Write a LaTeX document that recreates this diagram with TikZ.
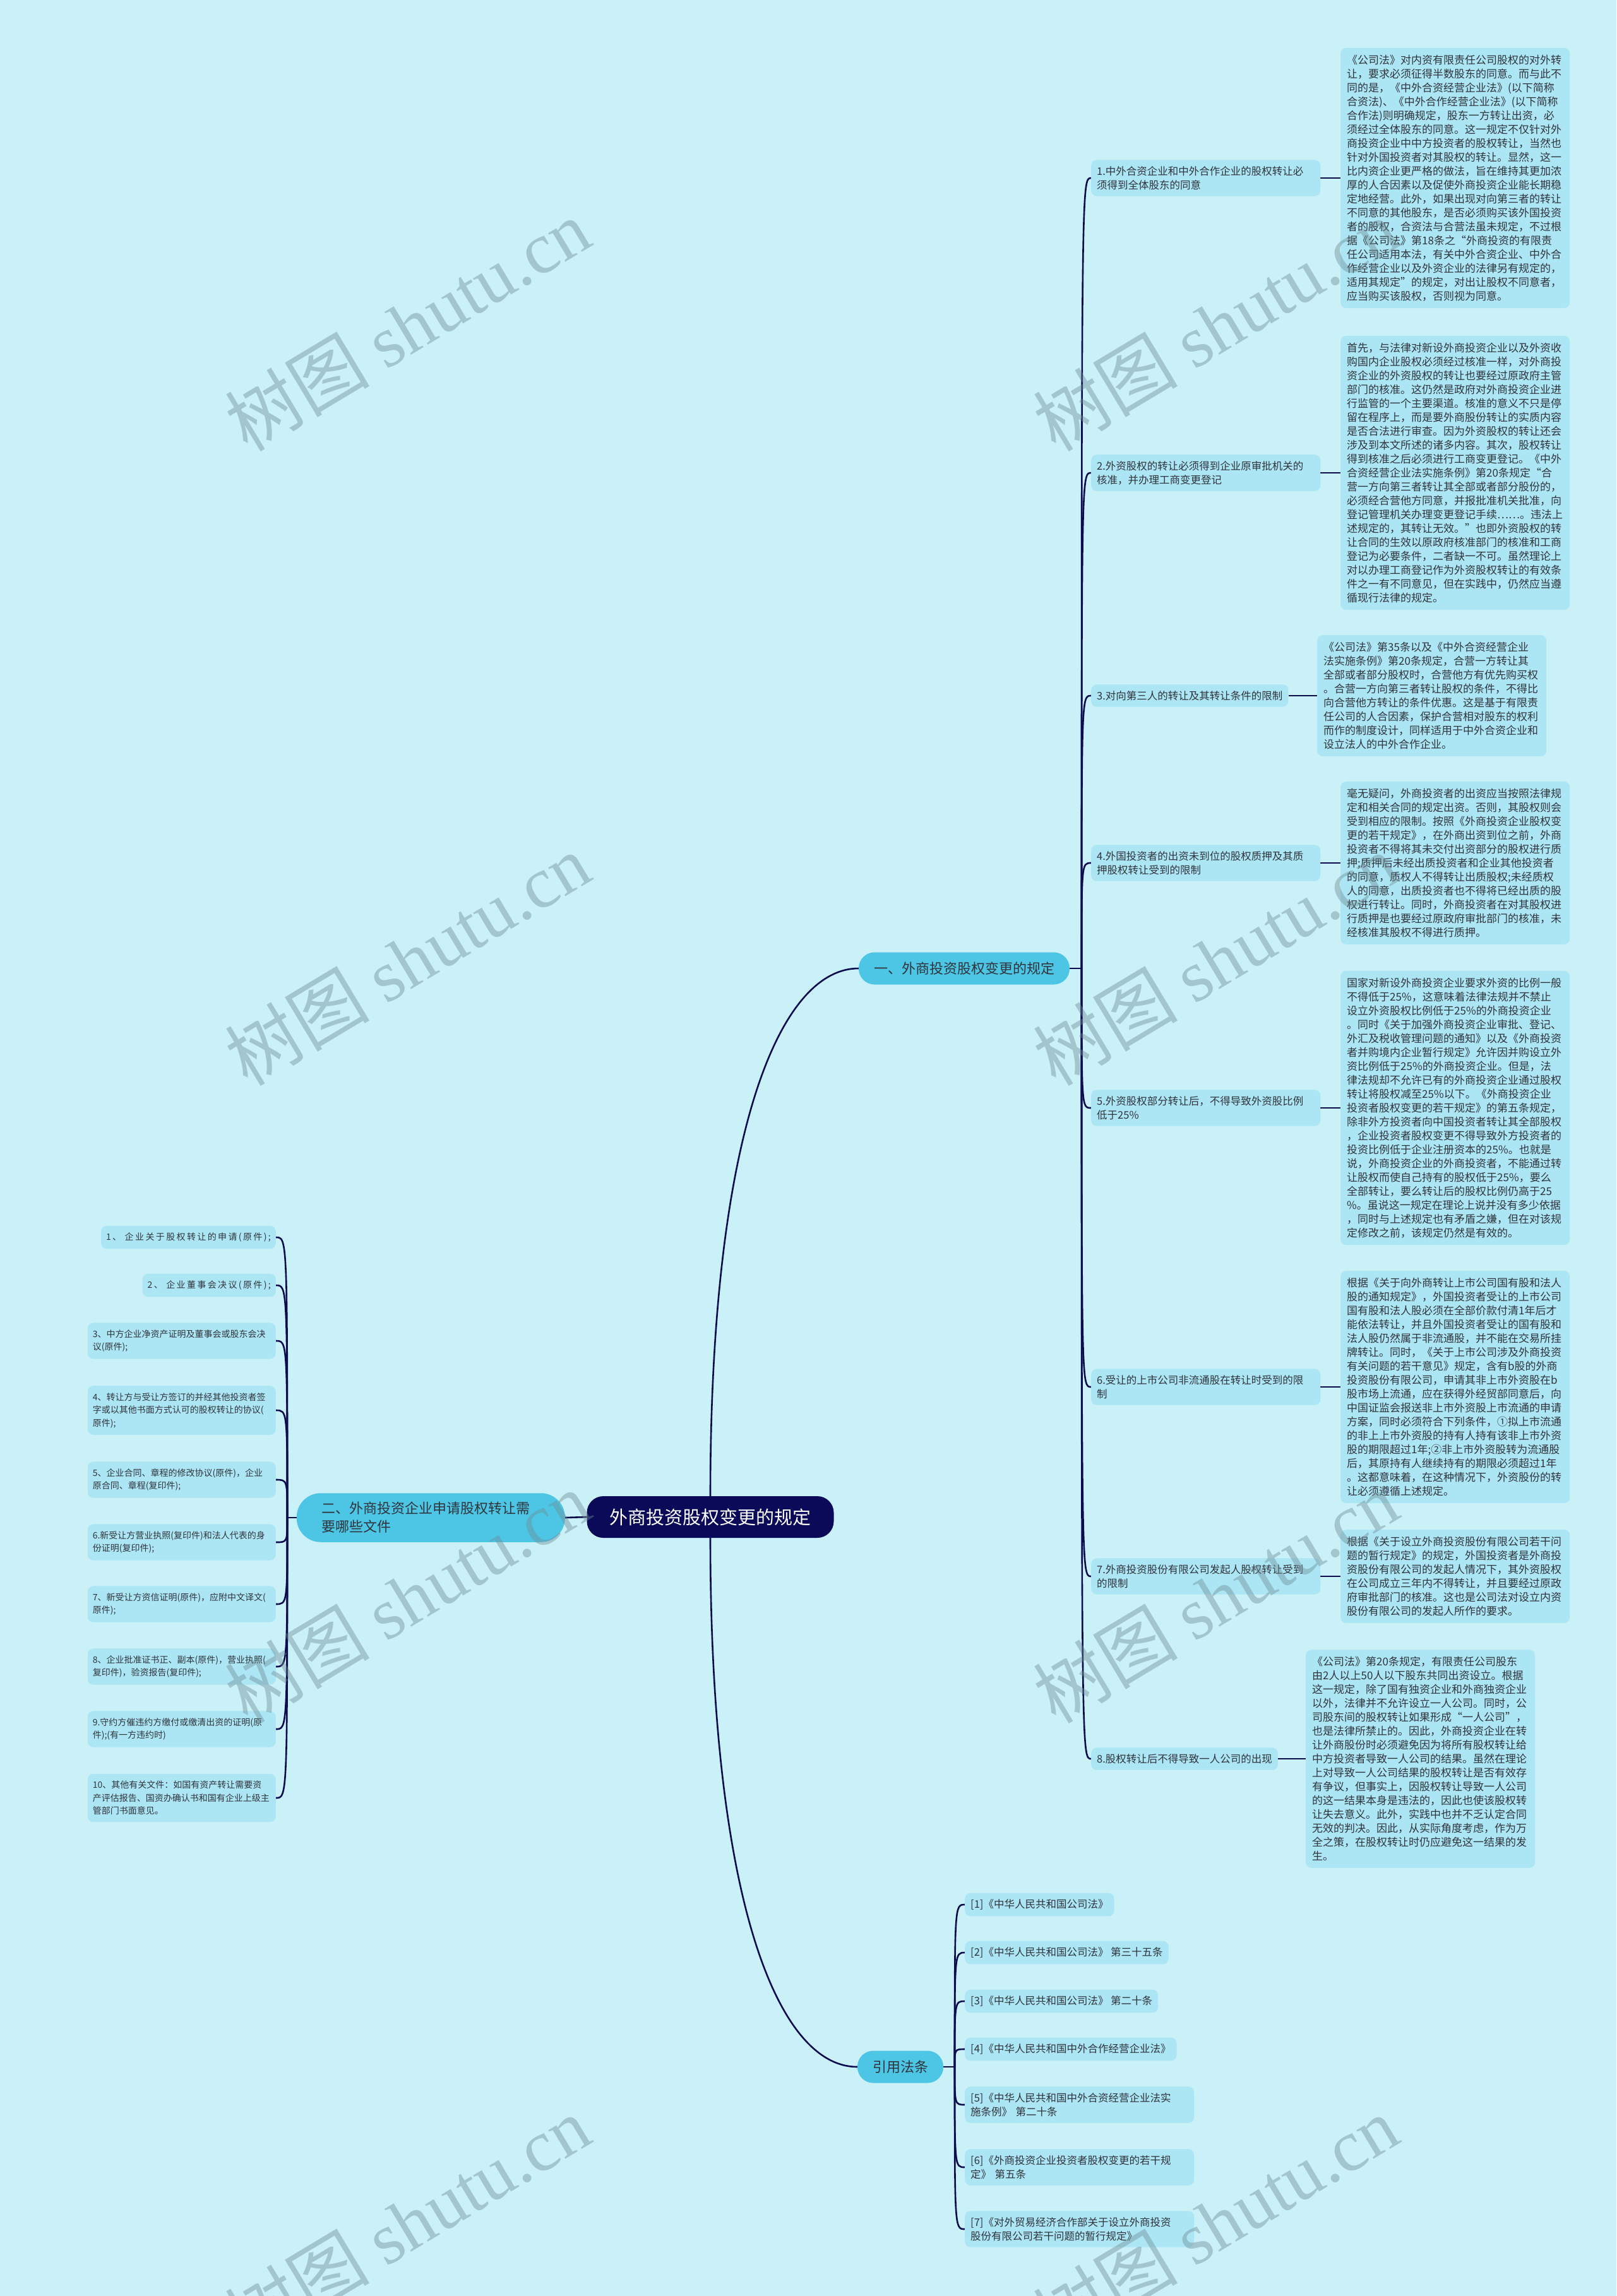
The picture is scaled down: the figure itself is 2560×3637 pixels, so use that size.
\documentclass[tikz,border=0pt]{standalone}
\usepackage{fontspec}
\setmainfont{Noto Sans CJK SC}
\newfontfamily\wmfont{Liberation Serif}
\newfontfamily\spacedfont[LetterSpace=17]{Noto Sans CJK SC}
\definecolor{bg}{RGB}{202,240,248}
\definecolor{boxfill}{RGB}{172,229,243}
\definecolor{lvlone}{RGB}{76,198,228}
\definecolor{rootfill}{RGB}{10,10,88}
\definecolor{linecol}{RGB}{12,12,78}
\definecolor{txt}{RGB}{48,52,60}
\definecolor{wm}{RGB}{110,140,148}
\pgfdeclarelayer{back}
\pgfdeclarelayer{edges}
\pgfdeclarelayer{front}
\pgfsetlayers{back,edges,main,front}
\tikzset{
  conn/.style={draw=linecol, line width=2.6pt},
  rootnode/.style={fill=rootfill, text=white, rounded corners=26pt, minimum height=66pt, inner xsep=36pt, font=\fontsize{29}{34}\selectfont},
  lvl/.style={fill=lvlone, text=txt, rounded corners=25pt, minimum height=51pt, inner xsep=24pt, font=\fontsize{22}{29}\selectfont},
  lvltwo/.style={fill=lvlone, text=txt, rounded corners=38pt, inner xsep=40pt, inner ysep=14pt, text width=345pt, align=left, font=\fontsize{22}{29}\selectfont},
  leaf/.style={fill=boxfill, text=txt, rounded corners=9pt, inner xsep=9pt, inner ysep=10pt, align=left, font=\fontsize{16.5}{22}\selectfont},
  detail/.style={fill=boxfill, text=txt, rounded corners=9pt, inner xsep=10pt, inner ysep=11pt, text width=343pt, align=left, font=\fontsize{17}{22}\selectfont},
  item/.style={fill=boxfill, text=txt, rounded corners=9pt, inner xsep=8pt, inner ysep=11pt, align=left, font=\fontsize{14}{20.5}\selectfont},
  spaceditem/.style={item, font=\spacedfont\fontsize{14}{20.5}\selectfont},
  refbox/.style={fill=boxfill, text=txt, rounded corners=9pt, inner xsep=9pt, inner ysep=10pt, align=left, font=\fontsize{16.5}{22}\selectfont},
  wmark/.style={text=wm, opacity=0.42, rotate=31, font=\fontsize{115}{115}\selectfont}
}
\begin{document}
\begin{tikzpicture}[x=1pt,y=-1pt]
\begin{pgfonlayer}{back}
\fill[bg] (0,0) rectangle (2560,3637);
\end{pgfonlayer}
\useasboundingbox (0,0) rectangle (2560,3637);

% root and level one
\node[rootnode] (root) at (1125,2403) {外商投资股权变更的规定};
\node[lvl] (l1) at (1527,1534) {一、外商投资股权变更的规定};
\node[lvltwo, anchor=east] (l2) at (895,2404) {二、外商投资企业申请股权转让需\\要哪些文件};
\node[lvl] (l3) at (1426,3274) {引用法条};

% right leaves
\node[leaf, anchor=west, text width=345pt] (a1) at (1728,282) {1.中外合资企业和中外合作企业的股权转让必\\须得到全体股东的同意};
\node[leaf, anchor=west, text width=345pt] (a2) at (1728,749) {2.外资股权的转让必须得到企业原审批机关的\\核准，并办理工商变更登记};
\node[leaf, anchor=west] (a3) at (1728,1102) {3.对向第三人的转让及其转让条件的限制};
\node[leaf, anchor=west, text width=345pt] (a4) at (1728,1367) {4.外国投资者的出资未到位的股权质押及其质\\押股权转让受到的限制};
\node[leaf, anchor=west, text width=345pt] (a5) at (1728,1755) {5.外资股权部分转让后，不得导致外资股比例\\低于25\%};
\node[leaf, anchor=west, text width=345pt] (a6) at (1728,2197) {6.受让的上市公司非流通股在转让时受到的限\\制};
\node[leaf, anchor=west, text width=345pt] (a7) at (1728,2497) {7.外商投资股份有限公司发起人股权转让受到\\的限制};
\node[leaf, anchor=west] (a8) at (1728,2786) {8.股权转让后不得导致一人公司的出现};

% detail boxes
\node[detail, anchor=west] (d1) at (2123,282) {《公司法》对内资有限责任公司股权的对外转\\让，要求必须征得半数股东的同意。而与此不\\同的是，《中外合资经营企业法》(以下简称\\合资法)、《中外合作经营企业法》(以下简称\\合作法)则明确规定，股东一方转让出资，必\\须经过全体股东的同意。这一规定不仅针对外\\商投资企业中中方投资者的股权转让，当然也\\针对外国投资者对其股权的转让。显然，这一\\比内资企业更严格的做法，旨在维持其更加浓\\厚的人合因素以及促使外商投资企业能长期稳\\定地经营。此外，如果出现对向第三者的转让\\不同意的其他股东，是否必须购买该外国投资\\者的股权，合资法与合营法虽未规定，不过根\\据《公司法》第18条之“外商投资的有限责\\任公司适用本法，有关中外合资企业、中外合\\作经营企业以及外资企业的法律另有规定的，\\适用其规定”的规定，对出让股权不同意者，\\应当购买该股权，否则视为同意。};
\node[detail, anchor=west] (d2) at (2123,749) {首先，与法律对新设外商投资企业以及外资收\\购国内企业股权必须经过核准一样，对外商投\\资企业的外资股权的转让也要经过原政府主管\\部门的核准。这仍然是政府对外商投资企业进\\行监管的一个主要渠道。核准的意义不只是停\\留在程序上，而是要外商股份转让的实质内容\\是否合法进行审查。因为外资股权的转让还会\\涉及到本文所述的诸多内容。其次，股权转让\\得到核准之后必须进行工商变更登记。《中外\\合资经营企业法实施条例》第20条规定“合\\营一方向第三者转让其全部或者部分股份的，\\必须经合营他方同意，并报批准机关批准，向\\登记管理机关办理变更登记手续……。违法上\\述规定的，其转让无效。”也即外资股权的转\\让合同的生效以原政府核准部门的核准和工商\\登记为必要条件，二者缺一不可。虽然理论上\\对以办理工商登记作为外资股权转让的有效条\\件之一有不同意见，但在实践中，仍然应当遵\\循现行法律的规定。};
\node[detail, anchor=west] (d3) at (2086,1102) {《公司法》第35条以及《中外合资经营企业\\法实施条例》第20条规定，合营一方转让其\\全部或者部分股权时，合营他方有优先购买权\\。合营一方向第三者转让股权的条件，不得比\\向合营他方转让的条件优惠。这是基于有限责\\任公司的人合因素，保护合营相对股东的权利\\而作的制度设计，同样适用于中外合资企业和\\设立法人的中外合作企业。};
\node[detail, anchor=west] (d4) at (2123,1367) {毫无疑问，外商投资者的出资应当按照法律规\\定和相关合同的规定出资。否则，其股权则会\\受到相应的限制。按照《外商投资企业股权变\\更的若干规定》，在外商出资到位之前，外商\\投资者不得将其未交付出资部分的股权进行质\\押;质押后未经出质投资者和企业其他投资者\\的同意，质权人不得转让出质股权;未经质权\\人的同意，出质投资者也不得将已经出质的股\\权进行转让。同时，外商投资者在对其股权进\\行质押是也要经过原政府审批部门的核准，未\\经核准其股权不得进行质押。};
\node[detail, anchor=west] (d5) at (2123,1755) {国家对新设外商投资企业要求外资的比例一般\\不得低于25\%，这意味着法律法规并不禁止\\设立外资股权比例低于25\%的外商投资企业\\。同时《关于加强外商投资企业审批、登记、\\外汇及税收管理问题的通知》以及《外商投资\\者并购境内企业暂行规定》允许因并购设立外\\资比例低于25\%的外商投资企业。但是，法\\律法规却不允许已有的外商投资企业通过股权\\转让将股权减至25\%以下。《外商投资企业\\投资者股权变更的若干规定》的第五条规定，\\除非外方投资者向中国投资者转让其全部股权\\，企业投资者股权变更不得导致外方投资者的\\投资比例低于企业注册资本的25\%。也就是\\说，外商投资企业的外商投资者，不能通过转\\让股权而使自己持有的股权低于25\%，要么\\全部转让，要么转让后的股权比例仍高于25\\\%。虽说这一规定在理论上说并没有多少依据\\，同时与上述规定也有矛盾之嫌，但在对该规\\定修改之前，该规定仍然是有效的。};
\node[detail, anchor=west] (d6) at (2123,2197) {根据《关于向外商转让上市公司国有股和法人\\股的通知规定》，外国投资者受让的上市公司\\国有股和法人股必须在全部价款付清1年后才\\能依法转让，并且外国投资者受让的国有股和\\法人股仍然属于非流通股，并不能在交易所挂\\牌转让。同时，《关于上市公司涉及外商投资\\有关问题的若干意见》规定，含有b股的外商\\投资股份有限公司，申请其非上市外资股在b\\股市场上流通，应在获得外经贸部同意后，向\\中国证监会报送非上市外资股上市流通的申请\\方案，同时必须符合下列条件，①拟上市流通\\的非上上市外资股的持有人持有该非上市外资\\股的期限超过1年;②非上市外资股转为流通股\\后，其原持有人继续持有的期限必须超过1年\\。这都意味着，在这种情况下，外资股份的转\\让必须遵循上述规定。};
\node[detail, anchor=west] (d7) at (2123,2497) {根据《关于设立外商投资股份有限公司若干问\\题的暂行规定》的规定，外国投资者是外商投\\资股份有限公司的发起人情况下，其外资股权\\在公司成立三年内不得转让，并且要经过原政\\府审批部门的核准。这也是公司法对设立内资\\股份有限公司的发起人所作的要求。};
\node[detail, anchor=west] (d8) at (2068,2786) {《公司法》第20条规定，有限责任公司股东\\由2人以上50人以下股东共同出资设立。根据\\这一规定，除了国有独资企业和外商独资企业\\以外，法律并不允许设立一人公司。同时，公\\司股东间的股权转让如果形成“一人公司”，\\也是法律所禁止的。因此，外商投资企业在转\\让外商股份时必须避免因为将所有股权转让给\\中方投资者导致一人公司的结果。虽然在理论\\上对导致一人公司结果的股权转让是否有效存\\有争议，但事实上，因股权转让导致一人公司\\的这一结果本身是违法的，因此也使该股权转\\让失去意义。此外，实践中也并不乏认定合同\\无效的判决。因此，从实际角度考虑，作为万\\全之策，在股权转让时仍应避免这一结果的发\\生。};

% left items
\node[spaceditem, anchor=east] (i1) at (437,1960) {1、 企业关于股权转让的申请(原件);};
\node[spaceditem, anchor=east] (i2) at (437,2036) {2、 企业董事会决议(原件);};
\node[item, anchor=east, text width=282pt] (i3) at (437,2124) {3、中方企业净资产证明及董事会或股东会决\\议(原件);};
\node[item, anchor=east, text width=282pt] (i4) at (437,2234) {4、转让方与受让方签订的并经其他投资者签\\字或以其他书面方式认可的股权转让的协议(\\原件);};
\node[item, anchor=east, text width=282pt] (i5) at (437,2344) {5、企业合同、章程的修改协议(原件)，企业\\原合同、章程(复印件);};
\node[item, anchor=east, text width=282pt] (i6) at (437,2443) {6.新受让方营业执照(复印件)和法人代表的身\\份证明(复印件);};
\node[item, anchor=east, text width=282pt] (i7) at (437,2541) {7、新受让方资信证明(原件)，应附中文译文(\\原件);};
\node[item, anchor=east, text width=282pt] (i8) at (437,2640) {8、企业批准证书正、副本(原件)，营业执照(\\复印件)，验资报告(复印件);};
\node[item, anchor=east, text width=282pt] (i9) at (437,2739) {9.守约方催违约方缴付或缴清出资的证明(原\\件);(有一方违约时)};
\node[item, anchor=east, text width=282pt] (i10) at (437,2848) {10、其他有关文件：如国有资产转让需要资\\产评估报告、国资办确认书和国有企业上级主\\管部门书面意见。};

% references
\node[refbox, anchor=west] (r1) at (1528,3017) {[1]《中华人民共和国公司法》};
\node[refbox, anchor=west] (r2) at (1528,3093) {[2]《中华人民共和国公司法》 第三十五条};
\node[refbox, anchor=west] (r3) at (1528,3170) {[3]《中华人民共和国公司法》 第二十条};
\node[refbox, anchor=west] (r4) at (1528,3246) {[4]《中华人民共和国中外合作经营企业法》};
\node[refbox, anchor=west, text width=345pt] (r5) at (1528,3334) {[5]《中华人民共和国中外合资经营企业法实\\施条例》 第二十条};
\node[refbox, anchor=west, text width=345pt] (r6) at (1528,3433) {[6]《外商投资企业投资者股权变更的若干规\\定》 第五条};
\node[refbox, anchor=west, text width=345pt] (r7) at (1528,3531) {[7]《对外贸易经济合作部关于设立外商投资\\股份有限公司若干问题的暂行规定》};

\coordinate (h1) at (1713,1534);
\coordinate (h2) at (455,2404);
\coordinate (h3) at (1512,3274);

\begin{pgfonlayer}{edges}
\draw[conn] (root.north) .. controls +(0,-570) and +(-127,0) .. (l1.west);
\draw[conn] (root.south) .. controls +(0,570) and +(-127,0) .. (l3.west);
\draw[conn] (root.west) -- (l2.east);
\draw[conn] (l1.east) -- (h1);
\draw[conn] (l2.west) -- (h2);
\draw[conn] (l3.east) -- (h3);
\foreach \n in {a1,a2,a3,a4,a5,a6,a7,a8}
  \draw[conn] (h1) .. controls (h1 |- \n.west) .. (\n.west);
\foreach \n in {i1,i2,i3,i4,i5,i6,i7,i8,i9,i10}
  \draw[conn] (h2) .. controls (h2 |- \n.east) .. (\n.east);
\foreach \n in {r1,r2,r3,r4,r5,r6,r7}
  \draw[conn] (h3) .. controls (h3 |- \n.west) .. (\n.west);
\draw[conn] (a1.east) -- (a1.east -| d1.west);
\draw[conn] (a2.east) -- (a2.east -| d2.west);
\draw[conn] (a3.east) -- (a3.east -| d3.west);
\draw[conn] (a4.east) -- (a4.east -| d4.west);
\draw[conn] (a5.east) -- (a5.east -| d5.west);
\draw[conn] (a6.east) -- (a6.east -| d6.west);
\draw[conn] (a7.east) -- (a7.east -| d7.west);
\draw[conn] (a8.east) -- (a8.east -| d8.west);
\end{pgfonlayer}

\begin{pgfonlayer}{front}
\node[wmark] (w1) at (645,515) {树图 {\wmfont shutu.cn}};
\node[wmark] (w2) at (1925,515) {树图 {\wmfont shutu.cn}};
\node[wmark] (w3) at (645,1520) {树图 {\wmfont shutu.cn}};
\node[wmark] (w4) at (1925,1520) {树图 {\wmfont shutu.cn}};
\node[wmark] (w5) at (645,2530) {树图 {\wmfont shutu.cn}};
\node[wmark] (w6) at (1925,2530) {树图 {\wmfont shutu.cn}};
\node[wmark] (w7) at (645,3520) {树图 {\wmfont shutu.cn}};
\node[wmark] (w8) at (1925,3520) {树图 {\wmfont shutu.cn}};
\end{pgfonlayer}
\end{tikzpicture}
\end{document}
